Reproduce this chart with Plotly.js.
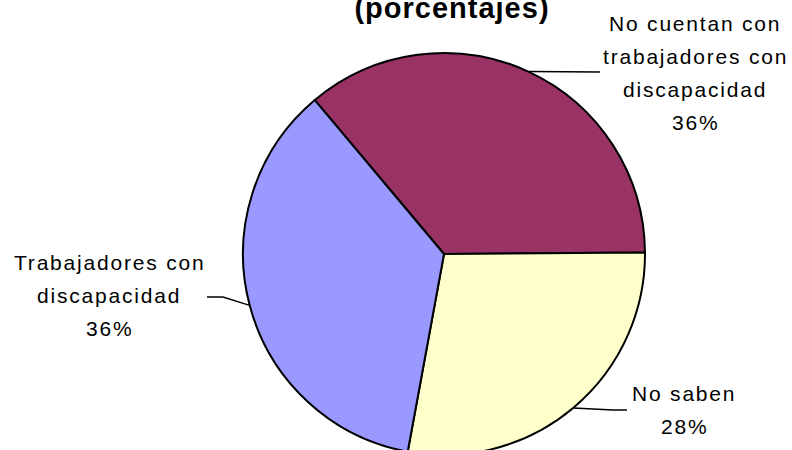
<!DOCTYPE html>
<html><head><meta charset="utf-8">
<script src="https://cdn.plot.ly/plotly-3.0.1.min.js"></script>
<style>
html,body{margin:0;padding:0;background:#fff;overflow:hidden}
#wrap{width:792px;height:450px;overflow:hidden}
#chart{width:792px;height:470px}
.annotation-text{letter-spacing:1.8px}
.gtitle{letter-spacing:1px}
</style></head><body>
<div id="wrap"><div id="chart"></div></div>
<script>
// ---- data ----
const titleText = '(porcentajes)';
const categories = ['No cuentan con trabajadores con discapacidad', 'No saben', 'Trabajadores con discapacidad'];
const labelLines = [['No cuentan con', 'trabajadores con', 'discapacidad'], ['No saben'], ['Trabajadores con', 'discapacidad']];
const values = [36, 28, 36];
const sliceColors = ['#993366', '#FFFFCC', '#9999FF'];

// ---- layout geometry (pixels) ----
const W = 792, H = 470;
const cx = 444, cy = 254, R = 201;
const rotation = -40;
const FONT = 'Liberation Sans, Arial, sans-serif';
const labelFont = 21, lineGap = 33;
const labelPlace = [
  {x: 695, base: 31, leader: [[600, 72]]},
  {x: 684, base: 401, leader: [[613, 410], [627, 410]]},
  {x: 109, base: 270, leader: [[223, 297], [207, 297]]}
];

const px = v => v / W;
const py = v => 1 - v / H;

const total = values.reduce((a, b) => a + b, 0);
let cum = 0;
const annotations = [];
const shapes = [];
values.forEach((v, i) => {
  const mid = (rotation + (cum + v / 2) / total * 360) * Math.PI / 180;
  cum += v;
  const ex = cx + R * Math.sin(mid), ey = cy - R * Math.cos(mid);
  const pl = labelPlace[i];
  let path = 'M ' + px(ex) + ',' + py(ey);
  pl.leader.forEach(p => { path += ' L ' + px(p[0]) + ',' + py(p[1]); });
  shapes.push({type: 'path', xref: 'paper', yref: 'paper', path: path,
    line: {color: '#000', width: 1.5}});
  const lines = labelLines[i].concat([v + '%']);
  lines.forEach((t, k) => {
    annotations.push({
      text: t, showarrow: false, xref: 'paper', yref: 'paper',
      x: px(pl.x), y: py(pl.base + k * lineGap - 7.3),
      xanchor: 'center', yanchor: 'middle',
      font: {family: FONT, size: labelFont, color: '#000'}
    });
  });
});

const trace = {
  type: 'pie', labels: categories, values: values, sort: false,
  direction: 'clockwise', rotation: rotation,
  marker: {colors: sliceColors, line: {color: '#000', width: 2}},
  textinfo: 'none', hoverinfo: 'skip', showlegend: false,
  domain: {x: [px(cx - R), px(cx + R)], y: [py(cy + R), py(cy - R)]}
};

const layout = {
  width: W, height: H,
  margin: {l: 0, r: 0, t: 0, b: 0},
  paper_bgcolor: '#fff',
  showlegend: false,
  title: {text: titleText, xref: 'container', yref: 'container',
    x: 452 / W, xanchor: 'center', y: 1 - 18 / H, yanchor: 'bottom',
    font: {family: FONT, size: 29, weight: 700, color: '#000'}},
  annotations: annotations,
  shapes: shapes
};

Plotly.newPlot('chart', [trace], layout, {staticPlot: true, displayModeBar: false});
</script>
</body></html>
